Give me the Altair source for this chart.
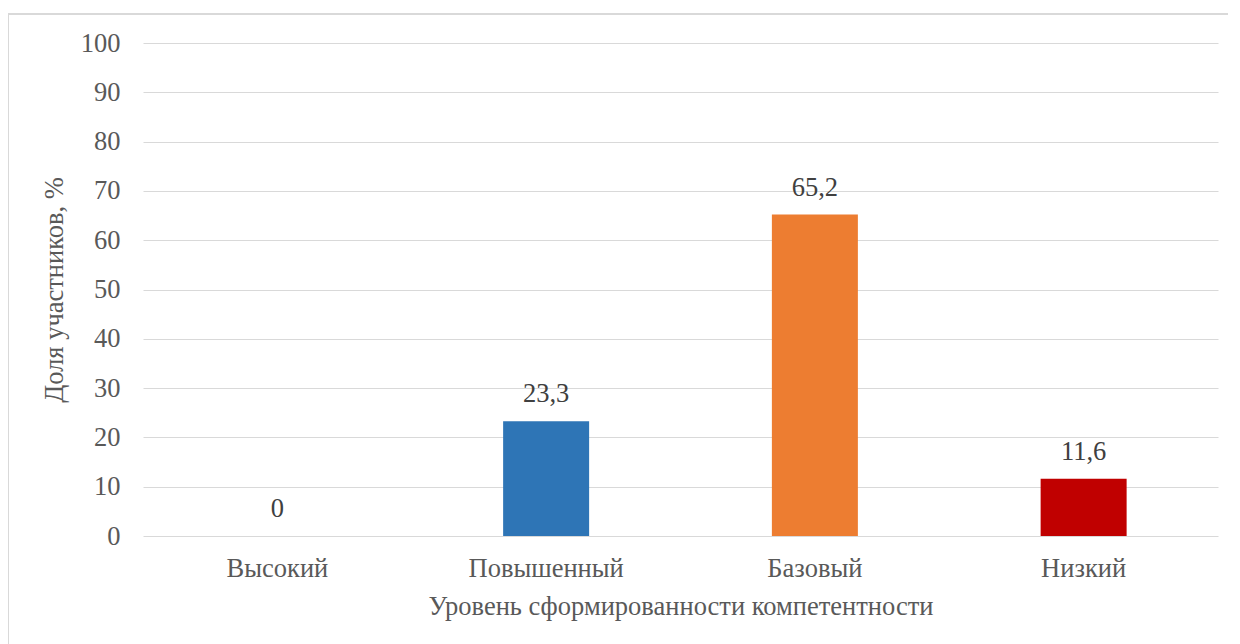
import altair as alt
import pandas as pd

categories = ["Высокий", "Повышенный", "Базовый", "Низкий"]
values = [0, 23.3, 65.2, 11.6]
colors = ["#70AD47", "#2E75B6", "#ED7D31", "#C00000"]
y_ticks = [0, 10, 20, 30, 40, 50, 60, 70, 80, 90, 100]

df = pd.DataFrame({
    "cat": categories,
    "val": values,
    "label": [str(v).replace(".", ",") for v in values],
    "color": colors,
})

FONT = "Liberation Serif"
GRAY = "#595959"
FS = 26.5

x_enc = alt.X("cat:N", sort=categories, scale=alt.Scale(paddingInner=0, paddingOuter=0),
              axis=alt.Axis(title="Уровень сформированности компетентности", labelAngle=0,
                            ticks=False, domain=False, labelPadding=19, titlePadding=12,
                            labelFont=FONT, titleFont=FONT, labelFontSize=FS, titleFontSize=FS,
                            labelColor=GRAY, titleColor=GRAY, titleFontWeight="normal"))
y_enc = alt.Y("val:Q", scale=alt.Scale(domain=[0, 100], nice=False),
              axis=alt.Axis(title="Доля участников, %", values=y_ticks, ticks=False, domain=False,
                            labelPadding=23, titlePadding=12, gridColor="#D9D9D9", gridWidth=1,
                            labelFont=FONT, titleFont=FONT, labelFontSize=FS, titleFontSize=FS,
                            labelColor=GRAY, titleColor=GRAY, titleFontWeight="normal"))

bars = alt.Chart(df).mark_bar(size=86).encode(
    x=x_enc, y=y_enc, color=alt.Color("color:N", scale=None)
)
text = alt.Chart(df).mark_text(font=FONT, fontSize=FS, color="#404040", baseline="alphabetic", dy=-19).encode(
    x=alt.X("cat:N", sort=categories), y="val:Q", text="label:N"
)
border = alt.Chart(df).mark_rect(fill=None, stroke="#D9D9D9", strokeWidth=1.5, clip=False).encode(
    x=alt.value(-135), x2=alt.value(1089), y=alt.value(-29), y2=alt.value(640)
)

chart = alt.layer(border, bars, text).properties(
    width=1075, height=493,
    autosize=alt.AutoSizeParams(type="none"),
    padding={"left": 135, "top": 35, "right": 10, "bottom": 140},
).configure_view(stroke=None)

chart.save("out.html", embed_options={"renderer": "svg", "actions": False})
